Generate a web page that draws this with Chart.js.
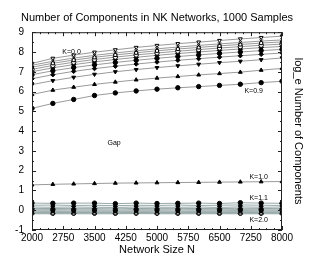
<!DOCTYPE html>
<html>
<head>
<meta charset="utf-8">
<script src="https://cdn.jsdelivr.net/npm/chart.js@4"></script>
<style>
  html, body { margin: 0; padding: 0; background: #fff; }
  canvas { display: block; }
</style>
</head>
<body>
<canvas id="chart" width="314" height="262"></canvas>
<script>
// network sizes on the x axis
const sizes = [2000, 2500, 3000, 3500, 4000, 4500, 5000, 5500, 6000, 6500, 7000, 7500, 8000];
const xTicks = [2000, 2750, 3500, 4250, 5000, 5750, 6500, 7250, 8000];
const yTicks = [-1, 0, 1, 2, 3, 4, 5, 6, 7, 8, 9];

// log_e number of components, per K
const k00 = [7.42, 7.68, 7.84, 7.99, 8.11, 8.23, 8.33, 8.42, 8.50, 8.58, 8.66, 8.73, 8.80];
const k01 = [7.33, 7.53, 7.69, 7.83, 7.95, 8.06, 8.16, 8.25, 8.33, 8.41, 8.48, 8.55, 8.61];
const k02 = [7.23, 7.43, 7.59, 7.73, 7.85, 7.96, 8.06, 8.15, 8.23, 8.31, 8.38, 8.45, 8.51];
const k03 = [7.12, 7.32, 7.48, 7.62, 7.74, 7.85, 7.95, 8.04, 8.12, 8.20, 8.27, 8.34, 8.40];
const k04 = [7.00, 7.20, 7.36, 7.50, 7.62, 7.73, 7.83, 7.92, 8.00, 8.08, 8.15, 8.22, 8.28];
const k05 = [6.85, 7.05, 7.21, 7.35, 7.47, 7.58, 7.68, 7.77, 7.85, 7.93, 8.00, 8.07, 8.13];
const k06 = [6.65, 6.85, 7.02, 7.16, 7.28, 7.39, 7.49, 7.58, 7.66, 7.74, 7.81, 7.88, 7.95];
const k07 = [6.35, 6.55, 6.72, 6.87, 7.00, 7.11, 7.21, 7.30, 7.38, 7.46, 7.53, 7.61, 7.70];
const k08 = [5.85, 6.07, 6.22, 6.36, 6.48, 6.59, 6.68, 6.76, 6.84, 6.91, 6.98, 7.08, 7.17];
const k09 = [5.15, 5.40, 5.60, 5.80, 5.93, 6.03, 6.12, 6.19, 6.25, 6.31, 6.37, 6.45, 6.52];
const k10 = [1.28, 1.31, 1.33, 1.35, 1.37, 1.38, 1.39, 1.40, 1.41, 1.42, 1.43, 1.44, 1.45];
const k11 = [0.36, 0.35, 0.36, 0.36, 0.33, 0.36, 0.34, 0.35, 0.36, 0.34, 0.38, 0.36, 0.35];
const k12 = [0.25, 0.26, 0.24, 0.25, 0.23, 0.25, 0.24, 0.26, 0.24, 0.25, 0.27, 0.25, 0.24];
const k13 = [0.16, 0.15, 0.16, 0.15, 0.14, 0.16, 0.15, 0.15, 0.16, 0.14, 0.17, 0.15, 0.16];
const k14 = [0.08, 0.09, 0.08, 0.08, 0.07, 0.09, 0.08, 0.08, 0.09, 0.08, 0.10, 0.09, 0.08];
const k15 = [0.02, 0.03, 0.02, 0.02, 0.01, 0.03, 0.02, 0.02, 0.03, 0.02, 0.03, 0.02, 0.02];
const k16 = [-0.03, -0.03, -0.04, -0.03, -0.04, -0.03, -0.03, -0.04, -0.03, -0.03, -0.02, -0.03, -0.03];
const k17 = [-0.08, -0.07, -0.08, -0.08, -0.08, -0.07, -0.08, -0.08, -0.07, -0.08, -0.07, -0.08, -0.08];
const k18 = [-0.12, -0.12, -0.11, -0.12, -0.12, -0.12, -0.11, -0.12, -0.12, -0.12, -0.11, -0.12, -0.12];
const k19 = [-0.15, -0.15, -0.15, -0.14, -0.15, -0.15, -0.15, -0.15, -0.14, -0.15, -0.15, -0.15, -0.15];
const k20 = [-0.18, -0.18, -0.18, -0.18, -0.18, -0.17, -0.18, -0.18, -0.18, -0.18, -0.18, -0.18, -0.18];

const kNames = ["K=0.0", "K=0.1", "K=0.2", "K=0.3", "K=0.4", "K=0.5", "K=0.6", "K=0.7", "K=0.8", "K=0.9",
  "K=1.0", "K=1.1", "K=1.2", "K=1.3", "K=1.4", "K=1.5", "K=1.6", "K=1.7", "K=1.8", "K=1.9", "K=2.0"];
const kSeries = [k00, k01, k02, k03, k04, k05, k06, k07, k08, k09, k10,
  k11, k12, k13, k14, k15, k16, k17, k18, k19, k20];

// text labels placed in data coordinates
const noteTexts = ["K=0.0", "K=0.9", "Gap", "K=1.0", "K=1.1", "K=2.0"];
const noteX = [2950, 7320, 3970, 7440, 7440, 7440];
const noteY = [8.0, 6.02, 3.38, 1.69, 0.63, -0.5];

// marker look per series: [style, rotation, open]
const markers = [
  ["triangle", 180, true], ["crossRot", 0, false], ["rect", 0, true], ["circle", 0, true],
  ["rectRot", 0, false], ["circle", 0, false], ["rectRot", 0, false], ["triangle", 180, false],
  ["triangle", 0, false], ["circle", 0, false], ["triangle", 0, false],
  ["circle", 0, false], ["triangle", 0, false], ["triangle", 180, false], ["rectRot", 0, false],
  ["circle", 0, false], ["rect", 0, false], ["crossRot", 0, false], ["rect", 0, true],
  ["circle", 0, true], ["rectRot", 0, true]
];

const FONT = "'Liberation Sans', Arial, Helvetica, sans-serif";

const datasets = kSeries.map((vals, i) => {
  const [style, rot, open] = markers[i];
  return {
    label: kNames[i],
    data: sizes.map((n, j) => ({ x: n, y: vals[j] })),
    borderColor: i > 10 ? "#98a8a8" : "#9a9a9a",
    borderWidth: 1,
    pointStyle: style,
    pointRotation: rot,
    pointRadius: 2.2,
    pointBorderWidth: 1,
    pointBorderColor: "#000",
    pointBackgroundColor: open ? "#fff" : "#000",
    tension: 0,
  };
});

// inward ticks + frame
const frameTicks = {
  id: "frameTicks",
  afterDatasetsDraw(chart) {
    const { ctx, chartArea: a, scales } = chart;
    const x = scales.x, y = scales.y;
    ctx.save();
    ctx.strokeStyle = "#222";
    ctx.lineWidth = 1;
    ctx.strokeRect(a.left + 0.5, a.top + 0.5, a.right - a.left - 1, a.bottom - a.top - 1);
    ctx.beginPath();
    for (let i = 0; i < xTicks.length; i++) {
      for (let m = 0; m < 4; m++) {
        const v = xTicks[i] + m * 187.5;
        if (v > 8000) break;
        const px = Math.round(x.getPixelForValue(v)) + 0.5;
        const len = m === 0 ? 4 : 2;
        ctx.moveTo(px, a.bottom); ctx.lineTo(px, a.bottom - len);
        ctx.moveTo(px, a.top); ctx.lineTo(px, a.top + len);
      }
    }
    for (let i = 0; i < yTicks.length; i++) {
      for (let m = 0; m < 2; m++) {
        const v = yTicks[i] + m * 0.5;
        if (v > 9) break;
        const py = Math.round(y.getPixelForValue(v)) + 0.5;
        const len = m === 0 ? 4 : 2;
        ctx.moveTo(a.left, py); ctx.lineTo(a.left + len, py);
        ctx.moveTo(a.right, py); ctx.lineTo(a.right - len, py);
      }
    }
    ctx.stroke();

    ctx.fillStyle = "#000";
    ctx.font = "7px " + FONT;
    ctx.textAlign = "center";
    ctx.textBaseline = "middle";
    noteTexts.forEach((t, i) => {
      ctx.fillText(t, x.getPixelForValue(noteX[i]), y.getPixelForValue(noteY[i]));
    });
    ctx.restore();
  }
};

new Chart(document.getElementById("chart").getContext("2d"), {
  type: "line",
  data: { datasets: datasets },
  options: {
    responsive: false,
    animation: false,
    layout: { padding: 0 },
    plugins: {
      legend: { display: false },
      tooltip: { enabled: false },
      title: {
        display: true,
        text: "Number of Components in NK Networks, 1000 Samples",
        color: "#000",
        font: { family: FONT, size: 11, weight: "normal" },
        padding: { top: 11, bottom: 8 },
      },
    },
    scales: {
      x: {
        type: "linear",
        min: 2000,
        max: 8000,
        afterBuildTicks: (s) => { s.ticks = xTicks.map((v) => ({ value: v })); },
        afterFit: (s) => { s.height = 32; },
        grid: { display: false, drawTicks: false },
        border: { display: false },
        ticks: {
          color: "#000",
          font: { family: FONT, size: 10 },
          padding: 2,
          maxRotation: 0,
          autoSkip: false,
          callback: (v) => String(v),
        },
        title: {
          display: true,
          text: "Network Size N",
          color: "#000",
          font: { family: FONT, size: 11 },
          padding: { top: 0, bottom: 5 },
        },
      },
      y: {
        type: "linear",
        position: "left",
        min: -1,
        max: 9,
        afterBuildTicks: (s) => { s.ticks = yTicks.map((v) => ({ value: v })); },
        afterFit: (s) => { s.width = 32; },
        grid: { display: false, drawTicks: false },
        border: { display: false },
        ticks: { color: "#000", font: { family: FONT, size: 10 }, padding: 8 },
      },
      yRight: {
        type: "linear",
        position: "right",
        min: -1,
        max: 9,
        afterFit: (s) => { s.width = 32; },
        grid: { display: false, drawTicks: false },
        border: { display: false },
        ticks: { display: false },
        title: {
          display: true,
          text: "log_e Number of Components",
          color: "#000",
          font: { family: FONT, size: 11 },
          padding: { top: 9, bottom: 0 },
        },
      },
    },
  },
  plugins: [frameTicks],
});
</script>
</body>
</html>
